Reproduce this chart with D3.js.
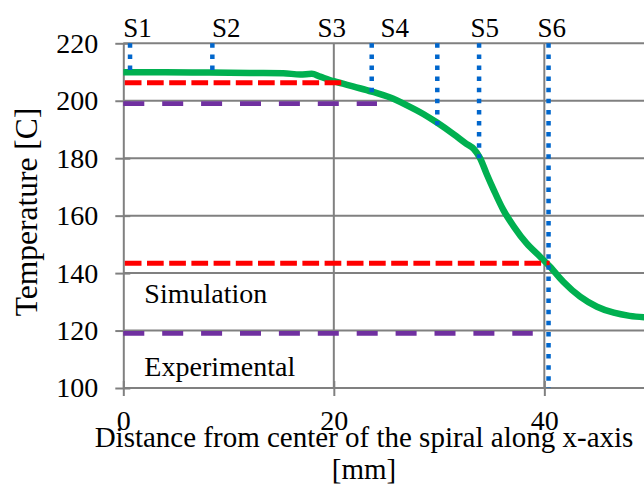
<!DOCTYPE html>
<html>
<head>
<meta charset="utf-8">
<script src="https://cdn.jsdelivr.net/npm/d3@7/dist/d3.min.js"></script>
<style>
  html, body { margin: 0; padding: 0; background: #fff; }
  svg { display: block; }
  svg text { font-family: "Liberation Serif", "Times New Roman", serif !important; fill: #000; }
</style>
</head>
<body>
<svg id="chart" width="644" height="489"></svg>
<script>
// Temperature profile along the x-axis of the spiral (mm, °C)
const distance = [0, 4, 8.2, 12, 15.2, 16.8, 17.9, 18.7, 20.0, 21.9, 23.6, 25.3, 26.9, 28.5, 29.8, 31.4,
  32.6, 33.3, 33.9, 34.5, 35.2, 36.1, 37.1, 38.3, 39.6, 40.5, 41.8, 43.4, 45.0, 46.6, 48.1, 50];
const temperature = [209.9, 209.9, 209.8, 209.7, 209.6, 209.1, 209.4, 208.4, 206.8, 204.9, 203.2, 201.2,
  198.5, 195.4, 192.4, 188.3, 185.0, 183.2, 180.0, 174.7, 168.9, 162.0, 156.2, 150.4, 145.7, 142.4,
  137.0, 131.8, 128.3, 126.2, 125.1, 124.5];

// Reference levels: simulation (red) and experimental (purple)
const simulationLevels = [206.3, 143.4];
const simulationEnds = [20.7, 40.5];
const experimentalLevels = [199, 119];
const experimentalEnds = [24.1, 38.9];

// Sensor probes
const sensorNames = ["S1", "S2", "S3", "S4", "S5", "S6"];
const sensorLabelX = [1.35, 9.78, 19.8, 25.8, 34.35, 40.7];
const probeX = [0.64, 8.46, 23.6, 29.83, 33.8, 40.4];
const probeBottom = [209.5, 209.5, 203, 191.5, 180, 100];

// Axis ticks
const xTicks = [0, 20, 40];
const yTicks = [100, 120, 140, 160, 180, 200, 220];

const legendNames = ["Simulation", "Experimental"];
const legendY = [129.6, 104.2];

const svg = d3.select("#chart");
const W = 644, H = 489;
const SERIF = '"Liberation Serif", "Times New Roman", serif';

const x = d3.scaleLinear().domain([0, 50]).range([123.3, 649.6]);
const y = d3.scaleLinear().domain([100, 220]).range([388, 43.3]);

const gridColor = "#808080";
const FS = 28;

// Gridlines
const grid = svg.append("g");
grid.selectAll("line.h").data(yTicks.slice(1)).join("line")
  .attr("x1", x(0)).attr("x2", W)
  .attr("y1", d => y(d)).attr("y2", d => y(d))
  .attr("stroke", gridColor).attr("stroke-width", 2);
grid.selectAll("line.v").data(xTicks.slice(1)).join("line")
  .attr("x1", d => x(d)).attr("x2", d => x(d))
  .attr("y1", y(220)).attr("y2", y(100))
  .attr("stroke", gridColor).attr("stroke-width", 2);

// Axes
const yAxis = svg.append("g").attr("transform", `translate(${x(0)},0)`)
  .call(d3.axisLeft(y).tickValues(yTicks).tickSize(8).tickSizeOuter(0).tickPadding(17));
const xAxis = svg.append("g").attr("transform", `translate(0,${y(100)})`)
  .call(d3.axisBottom(x).tickValues(xTicks).tickSize(8).tickSizeOuter(0).tickPadding(14));
[xAxis, yAxis].forEach(g => {
  g.attr("font-family", null).style("font-family", SERIF).attr("font-size", FS);
  g.select(".domain").attr("stroke", gridColor).attr("stroke-width", 2);
  g.selectAll(".tick line").attr("stroke", gridColor).attr("stroke-width", 2);
  g.selectAll(".tick text").style("font-family", SERIF).style("font-size", FS + "px").attr("fill", "#000");
});
// ticks cross the axis line
yAxis.selectAll(".tick line").attr("x1", 7);
xAxis.selectAll(".tick line").attr("y1", -7);
// extend x-axis line to the right edge
xAxis.select(".domain").attr("d", `M${x(0)},0H${W}`);

// Temperature curve
const line = d3.line().x((d, i) => x(distance[i])).y(d => y(d)).curve(d3.curveMonotoneX);
svg.append("path").datum(temperature)
  .attr("d", line).attr("fill", "none")
  .attr("stroke", "#00B050").attr("stroke-width", 6.5).attr("stroke-linejoin", "round");

// Experimental levels
svg.selectAll("line.exp").data(experimentalLevels).join("line")
  .attr("x1", x(0)).attr("x2", (d, i) => x(experimentalEnds[i]))
  .attr("y1", d => y(d)).attr("y2", d => y(d))
  .attr("stroke", "#7030A0").attr("stroke-width", 4.7).attr("stroke-dasharray", "21 17.9");

// Simulation levels
svg.selectAll("line.sim").data(simulationLevels).join("line")
  .attr("x1", x(0) + 1.5).attr("x2", (d, i) => x(simulationEnds[i]))
  .attr("y1", d => y(d)).attr("y2", d => y(d))
  .attr("stroke", "#FF0000").attr("stroke-width", 5).attr("stroke-dasharray", "16.7 5.5");

// Sensor probe lines
svg.selectAll("line.probe").data(probeX).join("line")
  .attr("x1", d => x(d)).attr("x2", d => x(d))
  .attr("y1", y(220)).attr("y2", (d, i) => y(probeBottom[i]))
  .attr("stroke", "#0066CC").attr("stroke-width", 4.5).attr("stroke-dasharray", "4.5 6.6");

// Sensor labels
svg.selectAll("text.sensor").data(sensorNames).join("text")
  .attr("x", (d, i) => x(sensorLabelX[i])).attr("y", 36.5)
  .attr("text-anchor", "middle").attr("font-size", FS - 1)
  .text(d => d);

// Legend-style annotations
svg.selectAll("text.legend").data(legendNames).join("text")
  .attr("x", x(2)).attr("y", (d, i) => y(legendY[i]))
  .attr("font-size", FS).text(d => d);

// Axis titles
svg.append("text")
  .attr("transform", `translate(36.5,212) rotate(-90)`)
  .attr("text-anchor", "middle").attr("font-size", 31.5)
  .text("Temperature [C]");
svg.append("text").attr("x", 364).attr("y", 447)
  .attr("text-anchor", "middle").attr("font-size", 29)
  .text("Distance from center of the spiral along x-axis");
svg.append("text").attr("x", 364).attr("y", 479)
  .attr("text-anchor", "middle").attr("font-size", 29)
  .text("[mm]");
</script>
</body>
</html>
